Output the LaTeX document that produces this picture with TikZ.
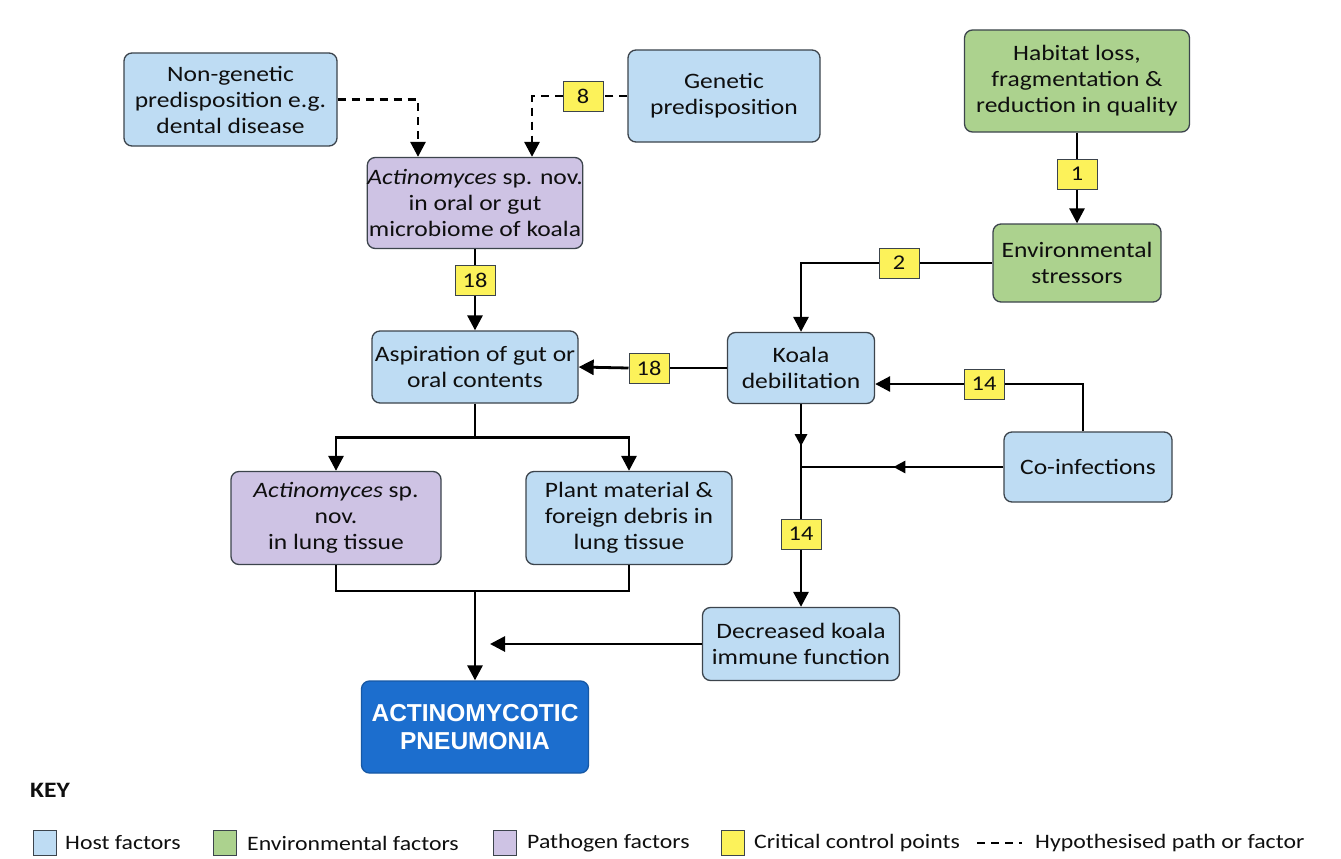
\documentclass[tikz,border=0pt]{standalone}
\usepackage{fontspec}
\setmainfont{Carlito}[FakeStretch=1.16]
\newfontfamily\arialfont{Liberation Sans}
\usetikzlibrary{arrows.meta}
\definecolor{hostc}{RGB}{190,220,243}
\definecolor{envc}{RGB}{172,210,142}
\definecolor{pathc}{RGB}{206,195,228}
\definecolor{ccpc}{RGB}{252,242,90}
\definecolor{pneuc}{RGB}{28,110,206}
\definecolor{edgec}{RGB}{60,68,76}
\definecolor{txtc}{RGB}{15,15,15}
\begin{document}
\begin{tikzpicture}[x=1pt,y=-1pt,
  box/.style={draw=edgec,line width=1.3pt,rounded corners=8pt,align=center,inner sep=0pt,
    text=txtc,font=\fontsize{22}{26}\selectfont},
  host/.style={box,fill=hostc},
  env/.style={box,fill=envc},
  path/.style={box,fill=pathc},
  ccp/.style={draw=edgec,line width=1pt,fill=ccpc,minimum width=40pt,minimum height=30pt,
    inner sep=0pt,text=txtc,font=\fontsize{21}{24}\selectfont},
  conn/.style={line width=2.8pt,black},
  arr/.style={conn,-{Triangle[length=15pt,width=15pt]}},
  midarr/.style={conn,-{Triangle[length=12pt,width=12pt]}},
  dashline/.style={conn,dash pattern=on 8pt off 6pt},
  dasharr/.style={dashline,-{Triangle[length=15pt,width=15pt]}},
  keysw/.style={draw=edgec,line width=1pt,minimum width=23pt,minimum height=25pt,inner sep=0pt},
  keytxt/.style={anchor=west,inner sep=0pt,text=txtc,font=\fontsize{20.5}{25}\selectfont}
]
\useasboundingbox (0,0) rectangle (1341,859);
\fill[white] (0,0) rectangle (1341,859);

% nodes
\node[host,minimum width=213pt,minimum height=93pt] (ng) at (230.5,99.5) {Non-genetic\\predisposition e.g.\\dental disease};
\node[host,minimum width=192pt,minimum height=92pt] (gen) at (724,96) {Genetic\\predisposition};
\node[env,minimum width=225pt,minimum height=102pt] (hab) at (1077,81) {Habitat loss,\\fragmentation \&\\reduction in quality};
\node[ccp] (c1) at (1077,174) {1};
\node[env,minimum width=168pt,minimum height=78pt] (envs) at (1077,263) {Environmental\\stressors};
\node[ccp] (c2) at (899,263) {2};
\node[path,minimum width=210pt,minimum height=91pt] (act) at (475,203) {\textit{Actinomyces} sp. nov.\\in oral or gut\\microbiome of koala};
\node[ccp] (c8) at (583,96) {8};
\node[ccp] (c18a) at (475,280) {18};
\node[host,minimum width=206pt,minimum height=72pt] (asp) at (475,367) {Aspiration of gut or\\oral contents};
\node[ccp] (c18b) at (649,368) {18};
\node[host,minimum width=147pt,minimum height=71pt] (koala) at (801,368) {Koala\\debilitation};
\node[ccp] (c14a) at (984,384) {14};
\node[host,minimum width=168pt,minimum height=70pt] (coinf) at (1088,467) {Co-infections};
\node[ccp] (c14b) at (801,534) {14};
\node[host,minimum width=197pt,minimum height=73pt] (dec) at (801,644) {Decreased koala\\immune function};
\node[path,minimum width=210pt,minimum height=93pt] (lung) at (336,518) {\textit{Actinomyces} sp.\\nov.\\in lung tissue};
\node[host,minimum width=206pt,minimum height=93pt] (plant) at (629,518) {Plant material \&\\foreign debris in\\lung tissue};
\node[box,fill=pneuc,draw=pneuc!80!black,text=white,minimum width=227pt,minimum height=92pt,
  font=\arialfont\bfseries\fontsize{24.5}{28}\selectfont] (pneu) at (475,727) {ACTINOMYCOTIC\\PNEUMONIA};

% connectors
\draw[conn] (hab.south) -- (c1.north);
\draw[arr] (c1.south) -- (envs.north);
\draw[conn] (envs.west) -- (c2.east);
\draw[arr] (c2.west) -| (koala.north);
\draw[dasharr] (ng.east) -| ([xshift=-57pt]act.north);
\draw[dashline] (gen.west) -- (c8.east);
\draw[dasharr] (c8.west) -| ([xshift=57pt]act.north);
\draw[conn] (act.south) -- (c18a.north);
\draw[arr] (c18a.south) -- (asp.north);
\draw[conn] (koala.west) -- (c18b.east);
\draw[arr] (c18b.west) -- (asp.east);
\draw[conn] ([xshift=-5pt]coinf.north) |- (c14a.east);
\draw[arr] (c14a.west) -- (c14a.west -| koala.east);
\coordinate (j) at (koala.south |- coinf.west);
\draw[midarr] (coinf.west) -- ([xshift=-110pt]coinf.west);
\draw[conn] ([xshift=-108pt]coinf.west) -- (j);
\draw[midarr] (koala.south) -- ([yshift=-42pt]koala.south);
\draw[conn] ([yshift=-40pt]koala.south) -- (j) -- (c14b.north);
\draw[arr] (c14b.south) -- (dec.north);
\coordinate (split) at ([yshift=-34pt]asp.south);
\draw[conn] (asp.south) -- (split);
\draw[arr] (split) -| (lung.north);
\draw[arr] (split) -| (plant.north);
\coordinate (merge) at (475,591);
\draw[conn] (lung.south) |- (merge) -| (plant.south);
\draw[arr] (merge) -- (pneu.north);
\draw[arr] (dec.west) -- ([xshift=15pt]pneu.north |- dec.west);

% key
\node[anchor=west,inner sep=0pt,text=txtc,font=\bfseries\fontsize{22}{24}\selectfont] (key) at (30,790) {KEY};
\node[keysw,fill=hostc] (k1) at (45,843) {};
\node[keytxt] (k1t) at (65,843) {Host factors};
\node[keysw,fill=envc] (k2) at (225,843) {};
\node[keytxt] (k2t) at (247,843) {Environmental factors};
\node[keysw,fill=pathc] (k3) at (505,843) {};
\node[keytxt] (k3t) at (527,843) {Pathogen factors};
\node[keysw,fill=ccpc] (k4) at (733,843) {};
\node[keytxt] (k4t) at (754,843) {Critical control points};
\coordinate (k5a) at (977,843);
\coordinate (k5b) at (1022,843);
\draw[line width=2.4pt,dash pattern=on 8pt off 6pt] (k5a) -- (k5b);
\node[keytxt] (k5t) at (1035,843) {Hypothesised path or factor};
\end{tikzpicture}
\end{document}
